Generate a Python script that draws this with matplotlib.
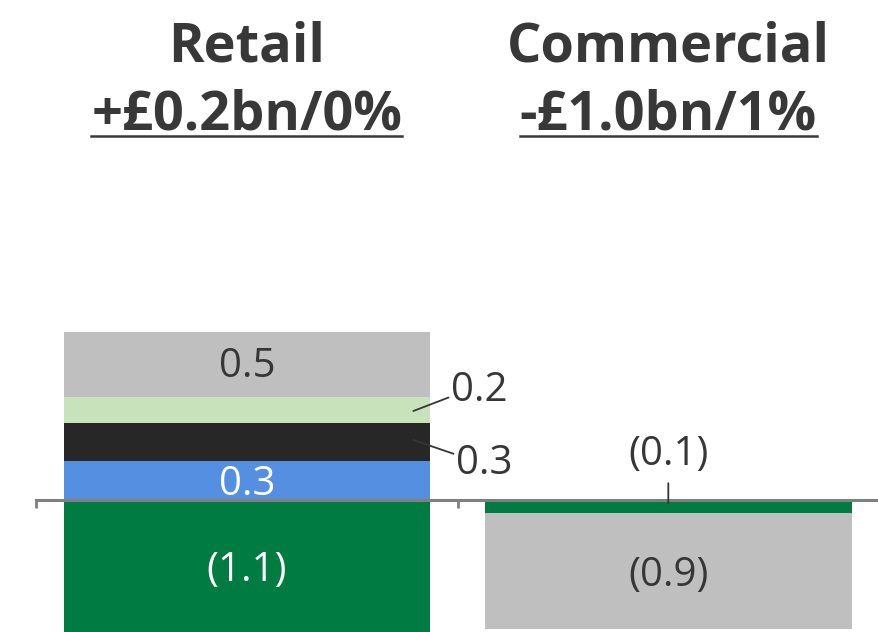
import matplotlib
matplotlib.use("Agg")
import matplotlib.pyplot as plt
from matplotlib.lines import Line2D

# data
retail_pos = [0.3, 0.3, 0.2, 0.5]
retail_pos_colors = ["#548fe2", "#272727", "#c8e3bc", "#bfbfbf"]
retail_neg = [-1.1]
retail_neg_colors = ["#007c42"]
commercial_neg = [-0.1, -0.9]
commercial_neg_colors = ["#007c42", "#bfbfbf"]
titles = ["Retail", "Commercial"]
subtitles = ["+£0.2bn/0%", "-£1.0bn/1%"]

TXT = "#363636"
FONT = "Open Sans"


def fmt(v):
    return "({:.1f})".format(abs(v)) if v < 0 else "{:.1f}".format(v)


fig = plt.figure(figsize=(8.79, 6.32), dpi=100)
ax = fig.add_axes([0, 0, 1, 1])
ax.set_xlim(-0.586, 1.482)
ax.set_ylim(-1.023, 3.876)
w = 0.87

# retail stack
bottom = 0
for v, c in zip(retail_pos, retail_pos_colors):
    ax.bar(0, v, bottom=bottom, width=w, color=c, zorder=2)
    bottom += v
bottom = 0
for v, c in zip(retail_neg, retail_neg_colors):
    ax.bar(0, v, bottom=bottom, width=w, color=c, zorder=2)
    bottom += v
# commercial stack
bottom = 0
for v, c in zip(commercial_neg, commercial_neg_colors):
    ax.bar(1, v, bottom=bottom, width=w, color=c, zorder=2)
    bottom += v

lab = dict(fontsize=29, family=FONT, color=TXT, zorder=5)
line = dict(arrowstyle="-", color=TXT, lw=1.3, shrinkA=0, shrinkB=0)
# retail labels
ax.text(0, sum(retail_pos[:3]) + retail_pos[3] / 2 - 0.02, fmt(retail_pos[3]),
        ha="center", va="center", **lab)
ax.text(0, retail_pos[0] / 2 - 0.03, fmt(retail_pos[0]), ha="center", va="center",
        **{**lab, "color": "white"})
ax.text(0, -0.55, fmt(retail_neg[0]), ha="center", va="center",
        **{**lab, "color": "white"})
y2 = sum(retail_pos[:2]) + retail_pos[2] / 2
ax.annotate(fmt(retail_pos[2]), xy=(0.395, y2 - 0.01), xytext=(0.485, y2 + 0.15),
            ha="left", va="center", arrowprops=dict(**line, relpos=(0, 0.35)), **lab)
y1 = retail_pos[0] + retail_pos[1] / 2
ax.annotate(fmt(retail_pos[1]), xy=(0.395, y1 + 0.015), xytext=(0.497, y1 - 0.17),
            ha="left", va="center", arrowprops=dict(**line, relpos=(-0.05, 0.75)), **lab)
# commercial labels
ax.annotate(fmt(commercial_neg[0]), xy=(1, -0.025), xytext=(1, 0.35),
            ha="center", va="center", arrowprops=dict(**line, relpos=(0.5, -0.2)), **lab)
ax.text(1, commercial_neg[0] + commercial_neg[1] / 2 - 0.04, fmt(commercial_neg[1]),
        ha="center", va="center", **lab)

# axis line at zero
for s in ["top", "right", "left"]:
    ax.spines[s].set_visible(False)
ax.spines["bottom"].set_position(("data", 0))
ax.spines["bottom"].set_bounds(-0.5, 1.5)
ax.spines["bottom"].set_color("#808080")
ax.spines["bottom"].set_linewidth(2.2)
ax.spines["bottom"].set_zorder(3)
ax.set_xticks([-0.5, 0.5, 1.5])
ax.set_xticklabels([])
ax.set_yticks([])
ax.tick_params(axis="x", direction="out", length=6, width=2, color="#808080")
ax.set_facecolor("white")

# titles
subs = []
for i, (t, s) in enumerate(zip(titles, subtitles)):
    ax.text(i, 0.902, t, transform=ax.get_xaxis_transform(), ha="center",
            va="baseline", fontsize=39, fontweight="bold", family=FONT, color="#383838")
    subs.append(ax.text(i, 0.795, s, transform=ax.get_xaxis_transform(), ha="center",
                        va="baseline", fontsize=39, fontweight="bold", family=FONT,
                        color="#383838"))

fig.canvas.draw()
r = fig.canvas.get_renderer()
for t in subs:
    bb = t.get_window_extent(r)
    yb = ax.transAxes.transform((0, 0.795))[1] - 6
    fig.add_artist(Line2D([bb.x0, bb.x1], [yb, yb], transform=None,
                          color="#383838", lw=1.8))

fig.savefig("out.png", dpi=100, facecolor="white")
